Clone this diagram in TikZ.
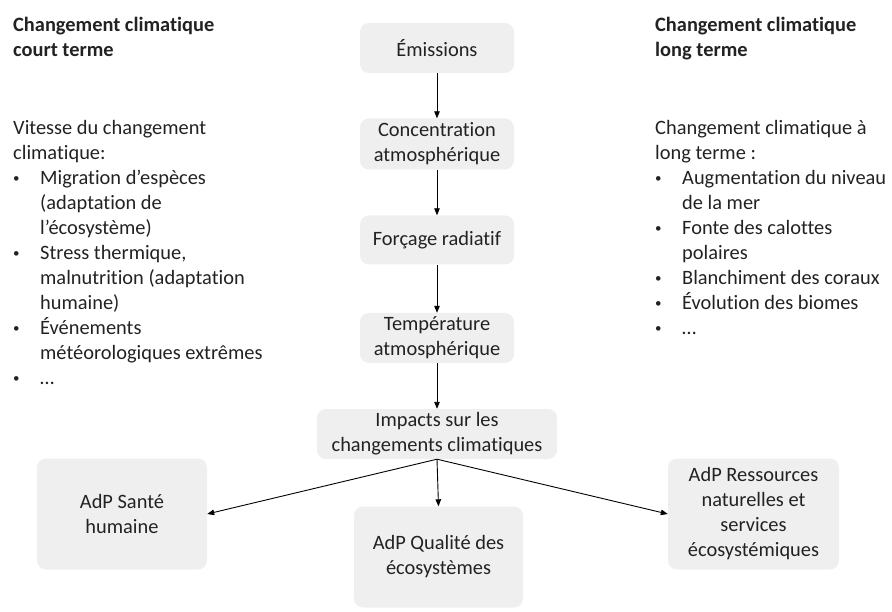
\documentclass[tikz,border=0pt]{standalone}
\usepackage{fontspec}
\setmainfont{Carlito}[Ligatures=CommonOff]
\usetikzlibrary{arrows.meta}
\definecolor{boxgray}{HTML}{EFEFEF}
\definecolor{ink}{HTML}{222222}
\newcommand{\itm}[1]{\makebox[27pt][l]{\raisebox{1.5pt}{\fontsize{13}{13}\selectfont•}}#1}
\newcommand{\cnt}[1]{\hspace*{27pt}#1}
\begin{document}
\begin{tikzpicture}[x=1pt,y=-1pt,
  txt/.style={font=\fontsize{20.4}{25}\selectfont, text=ink},
  box/.style={txt, fill=boxgray, rounded corners=9pt, align=center, inner sep=0pt},
  col/.style={txt, align=left, inner sep=0pt, anchor=north west},
  flow/.style={draw=black, line width=0.9pt, -{Triangle[length=7pt,width=5.5pt]}}
]
\useasboundingbox (0,0) rectangle (892,612);

% causal chain
\node[box, minimum width=154pt, minimum height=50pt] (em) at (437,48) {Émissions};
\node[box, minimum width=154pt, minimum height=51pt] (conc) at (437,144) {Concentration\\atmosphérique};
\node[box, minimum width=154pt, minimum height=49pt] (forc) at (437,240) {Forçage radiatif};
\node[box, minimum width=154pt, minimum height=50pt] (temp) at (437,338) {Température\\atmosphérique};
\node[box, minimum width=240pt, minimum height=50pt] (imp) at (437,434) {Impacts sur les\\changements climatiques};

% areas of protection
\node[box, minimum width=170pt, minimum height=111pt] (sante) at (122,514) {AdP Santé\\humaine};
\node[box, minimum width=169pt, minimum height=101pt] (qual) at (438.5,557) {AdP Qualité des\\écosystèmes};
\node[box, minimum width=171pt, minimum height=111pt] (res) at (753.5,514) {AdP Ressources\\naturelles et\\services\\écosystémiques};

\draw[flow] (em.south) -- (conc.north);
\draw[flow] (conc.south) -- (forc.north);
\draw[flow] (forc.south) -- (temp.north);
\draw[flow] (temp.south) -- (imp.north);
\draw[flow] (imp.south) -- (sante.east);
\draw[flow] (imp.south) -- (qual.north);
\draw[flow] (imp.south) -- (res.west);

% side columns
\node[col, font=\fontsize{20.4}{25}\selectfont\bfseries] (ctitle) at (13,17) {Changement climatique\\court terme};
\node[col] (clist) at (13,120) {Vitesse du changement\\climatique:\\
\itm{Migration d’espèces}\\\cnt{(adaptation de}\\\cnt{l’écosystème)}\\
\itm{Stress thermique,}\\\cnt{malnutrition (adaptation}\\\cnt{humaine)}\\
\itm{Événements}\\\cnt{météorologiques extrêmes}\\
\itm{…}};

\node[col, font=\fontsize{20.4}{25}\selectfont\bfseries] (ltitle) at (655,17) {Changement climatique\\long terme};
\node[col] (llist) at (655,120) {Changement climatique à\\long terme :\\
\itm{Augmentation du niveau}\\\cnt{de la mer}\\
\itm{Fonte des calottes}\\\cnt{polaires}\\
\itm{Blanchiment des coraux}\\
\itm{Évolution des biomes}\\
\itm{…}};
\end{tikzpicture}
\end{document}
